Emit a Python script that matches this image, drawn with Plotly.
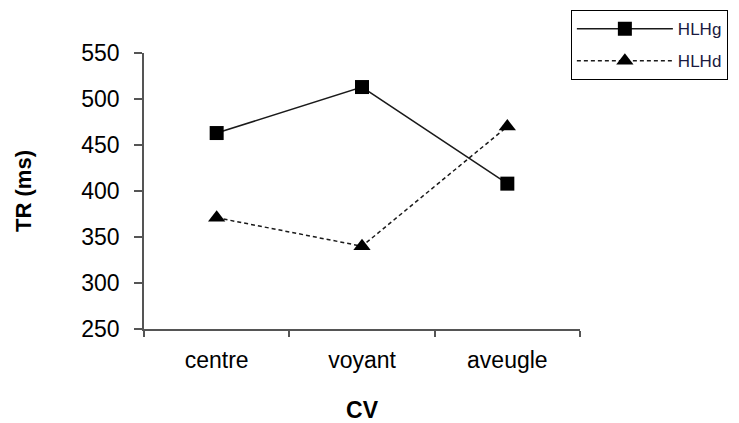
import plotly.graph_objects as go

categories = ["centre", "voyant", "aveugle"]
hlhg = [463, 513, 408]
hlhd = [371, 340, 470]
y_ticks = [250, 300, 350, 400, 450, 500, 550]

fig = go.Figure()
fig.add_trace(go.Scatter(
    x=categories, y=hlhg, name="HLHg", mode="lines+markers",
    legendgroup="a",
    line=dict(color="#1a1a1a", width=1.5),
    marker=dict(symbol="square", size=14, color="black"),
))
fig.add_trace(go.Scatter(
    x=categories, y=hlhd, name="HLHd", mode="lines+markers",
    legendgroup="b",
    line=dict(color="#1a1a1a", width=1.5, dash="4px,3px"),
    marker=dict(symbol="triangle-up", size=15, color="black"),
))

fig.update_layout(
    width=731, height=415,
    margin=dict(l=136, r=159, t=45, b=94, autoexpand=False),
    paper_bgcolor="white", plot_bgcolor="white",
    font=dict(family="Liberation Sans, Arial", color="black"),
    showlegend=True,
    legend=dict(
        xref="container", yref="container",
        x=0.770, y=0.995, xanchor="left", yanchor="top",
        bordercolor="black", borderwidth=1, bgcolor="white",
        font=dict(size=17, color="#1a1a40"),
        tracegroupgap=7, itemwidth=96,
    ),
    xaxis=dict(
        type="category", range=[-0.5, 2.5], tickson="boundaries",
        ticks="outside", ticklen=6, tickcolor="#555555", tickwidth=1.5,
        showline=True, linecolor="#555555", linewidth=1.5,
        showgrid=False, zeroline=False, automargin=False,
        ticklabelstandoff=10,
        tickfont=dict(size=23),
        title=dict(text="<b>CV</b>", font=dict(size=23), standoff=30),
    ),
    yaxis=dict(
        range=[250, 550], tickvals=y_ticks,
        ticks="outside", ticklen=8, tickcolor="#555555", tickwidth=1.5,
        showline=True, linecolor="#555555", linewidth=1.5,
        showgrid=False, zeroline=False, automargin=False,
        ticklabelstandoff=10,
        tickfont=dict(size=23),
        title=dict(text="<b>TR (ms)</b>", font=dict(size=22), standoff=44),
    ),
)

fig.write_html("out.html")
